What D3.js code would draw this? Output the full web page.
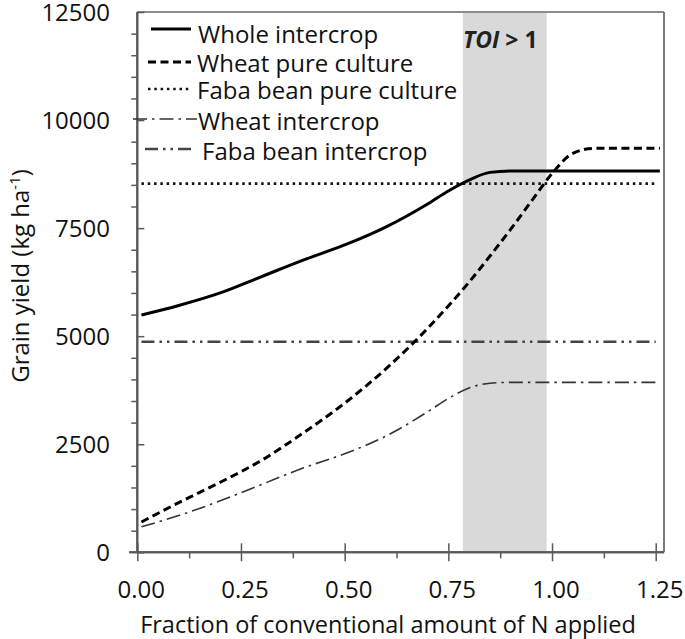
<!DOCTYPE html>
<html>
<head>
<meta charset="utf-8">
<script src="https://cdn.jsdelivr.net/npm/d3@7"></script>
<style>
  html, body { margin: 0; padding: 0; background: #fff; }
  svg { display: block; font-family: "Open Sans", Lato, sans-serif; }
</style>
</head>
<body>
<svg id="chart" width="685" height="639"></svg>
<script>
// ---- data ----
const fractions      = [0.01, 0.1, 0.2, 0.3, 0.4, 0.5, 0.6, 0.7, 0.75, 0.8, 0.85, 0.9, 0.95, 1.0, 1.05, 1.1, 1.15, 1.2, 1.26];
const wholeIntercrop = [5490, 5710, 6000, 6380, 6760, 7110, 7530, 8060, 8360, 8610, 8790, 8824, 8824, 8824, 8824, 8824, 8824, 8824, 8824];
const wheatPure      = [700, 1150, 1620, 2130, 2760, 3450, 4250, 5180, 5700, 6250, 6850, 7470, 8120, 8760, 9230, 9345, 9345, 9345, 9345];
const wheatIntercrop = [590, 850, 1190, 1570, 1950, 2280, 2690, 3250, 3560, 3800, 3910, 3931, 3931, 3931, 3931, 3931, 3931, 3931, 3931];
const flatFractions  = [0.01, 1.25];
const fabaPure       = [8530, 8530];
const fabaIntercrop  = [4870, 4870];
const toiRange       = [0.785, 0.987];
const xTicks         = [0, 0.25, 0.5, 0.75, 1.0, 1.25];
const xMinorTicks    = [0.125, 0.375, 0.625, 0.875, 1.125];
const yTicks         = [0, 2500, 5000, 7500, 10000, 12500];
const yMinorTicks    = [500,1000,1500,2000,3000,3500,4000,4500,5500,6000,6500,7000,8000,8500,9000,9500,10500,11000,11500,12000];
const seriesNames    = ["Whole intercrop", "Wheat pure culture", "Faba bean pure culture", "Wheat intercrop", "Faba bean intercrop"];

// ---- layout ----
const svg = d3.select("#chart");
const L = 137.3, R = 664, T = 12, B = 552.3;
const x = d3.scaleLinear().domain([0, 1.27]).range([L, R]);
const y = d3.scaleLinear().domain([0, 12500]).range([B, T]);
const axisCol = "#595959";

// shaded TOI band
svg.append("rect")
  .attr("x", x(toiRange[0])).attr("y", T)
  .attr("width", x(toiRange[1]) - x(toiRange[0])).attr("height", B - T)
  .attr("fill", "#d9d9d9");

// top & right frame
svg.append("line").attr("x1", L).attr("x2", R).attr("y1", T).attr("y2", T)
  .attr("stroke", "#8c8c8c").attr("stroke-width", 2);
svg.append("line").attr("x1", R).attr("x2", R).attr("y1", T).attr("y2", B)
  .attr("stroke", "#7a7a7a").attr("stroke-width", 2);

// styles for series
const styles = {
  whole:   {stroke: "#000", width: 3, dash: null},
  wheatP:  {stroke: "#000", width: 3, dash: "8,4.5"},
  fabaP:   {stroke: "#111", width: 2.6, dash: "2.5,3.8"},
  wheatI:  {stroke: "#333", width: 1.6, dash: "14,5,2.5,5"},
  fabaI:   {stroke: "#444", width: 2.6, dash: "13,5,2.5,5,2.5,5"}
};

function drawLine(xs, vals, st, curve) {
  const pts = xs.map((f, i) => [f, vals[i]]);
  const gen = d3.line().x(d => x(d[0])).y(d => y(d[1])).curve(curve || d3.curveMonotoneX);
  const p = svg.append("path").attr("d", gen(pts)).attr("fill", "none")
    .attr("stroke", st.stroke).attr("stroke-width", st.width)
    .attr("stroke-linejoin", "round");
  if (st.dash) p.attr("stroke-dasharray", st.dash);
  return p;
}

drawLine(flatFractions, fabaIntercrop, styles.fabaI, d3.curveLinear);
drawLine(flatFractions, fabaPure, styles.fabaP, d3.curveLinear);
drawLine(fractions, wheatIntercrop, styles.wheatI);
drawLine(fractions, wheatPure, styles.wheatP);
drawLine(fractions, wholeIntercrop, styles.whole);

// ---- axes ----
// y axis
const gy = svg.append("g").attr("transform", `translate(${L},0)`);
gy.call(d3.axisLeft(y).tickValues(yMinorTicks).tickSize(6).tickFormat(""));
gy.append("g").call(d3.axisLeft(y).tickValues(yTicks).tickSize(7).tickFormat(""))
  .selectAll(".tick line").attr("x2", 7);
gy.selectAll("path.domain").attr("stroke", axisCol).attr("stroke-width", 2);
gy.selectAll(".tick line").attr("stroke", axisCol).attr("stroke-width", 1.5);
gy.selectAll("path.domain").attr("d", `M0,${T}V${B}`);
svg.append("g").selectAll("text").data(yTicks).join("text")
  .attr("x", 110).attr("y", d => y(d)).attr("dy", "0.36em")
  .attr("text-anchor", "end").attr("font-size", 24).attr("fill", "#111")
  .text(d => d);

// x axis
const gx = svg.append("g").attr("transform", `translate(0,${B})`);
gx.call(d3.axisBottom(x).tickValues(xMinorTicks).tickSize(6).tickFormat(""));
gx.append("g").call(d3.axisBottom(x).tickValues(xTicks).tickSize(9).tickFormat(""))
  .selectAll(".tick line").attr("y1", -9);
gx.selectAll("path.domain").attr("stroke", axisCol).attr("stroke-width", 2).attr("d", `M${L - 8},0H${R}`);
gx.selectAll(".tick line").attr("stroke", axisCol).attr("stroke-width", 1.5);
svg.append("g").selectAll("text").data(xTicks).join("text")
  .attr("x", d => x(d) + 4).attr("y", 598)
  .attr("text-anchor", "middle").attr("font-size", 24).attr("fill", "#111")
  .text(d => d3.format(".2f")(d));

// axis titles
svg.append("text").attr("x", 388).attr("y", 633).attr("text-anchor", "middle")
  .attr("font-size", 23.5).attr("fill", "#111")
  .text("Fraction of conventional amount of N applied");
const yt = svg.append("text").attr("transform", "translate(29,276) rotate(-90)")
  .attr("text-anchor", "middle").attr("font-size", 24).attr("fill", "#111");
yt.append("tspan").text("Grain yield (kg ha");
yt.append("tspan").attr("font-size", 15).attr("dy", -9).text("-1");
yt.append("tspan").attr("dy", 9).text(")");

// TOI label
const toi = svg.append("text").attr("x", 463).attr("y", 48)
  .attr("font-size", 23).attr("font-weight", "bold").attr("fill", "#222");
toi.append("tspan").attr("font-style", "italic").text("TOI");
toi.append("tspan").text(" > 1");

// ---- legend ----
const legendRows = [
  {name: seriesNames[0], st: styles.whole,  lx1: 151, lx2: 191, ly: 29,  tx: 198, ty: 43},
  {name: seriesNames[1], st: styles.wheatP, lx1: 148, lx2: 191, ly: 62,  tx: 197, ty: 71.5},
  {name: seriesNames[2], st: styles.fabaP,  lx1: 148, lx2: 190, ly: 89,  tx: 197, ty: 98.5},
  {name: seriesNames[3], st: styles.wheatI, lx1: 133, lx2: 197, ly: 119, tx: 198, ty: 130},
  {name: seriesNames[4], st: styles.fabaI,  lx1: 145, lx2: 192, ly: 149, tx: 202, ty: 160}
];
const lg = svg.append("g");
legendRows.forEach(r => {
  const l = lg.append("line").attr("x1", r.lx1).attr("x2", r.lx2).attr("y1", r.ly).attr("y2", r.ly)
    .attr("stroke", r.st.stroke).attr("stroke-width", r.st.width);
  if (r.st.dash) l.attr("stroke-dasharray", r.st.dash);
  lg.append("text").attr("x", r.tx).attr("y", r.ty).attr("font-size", 24)
    .attr("fill", "#111").text(r.name);
});
</script>
</body>
</html>
